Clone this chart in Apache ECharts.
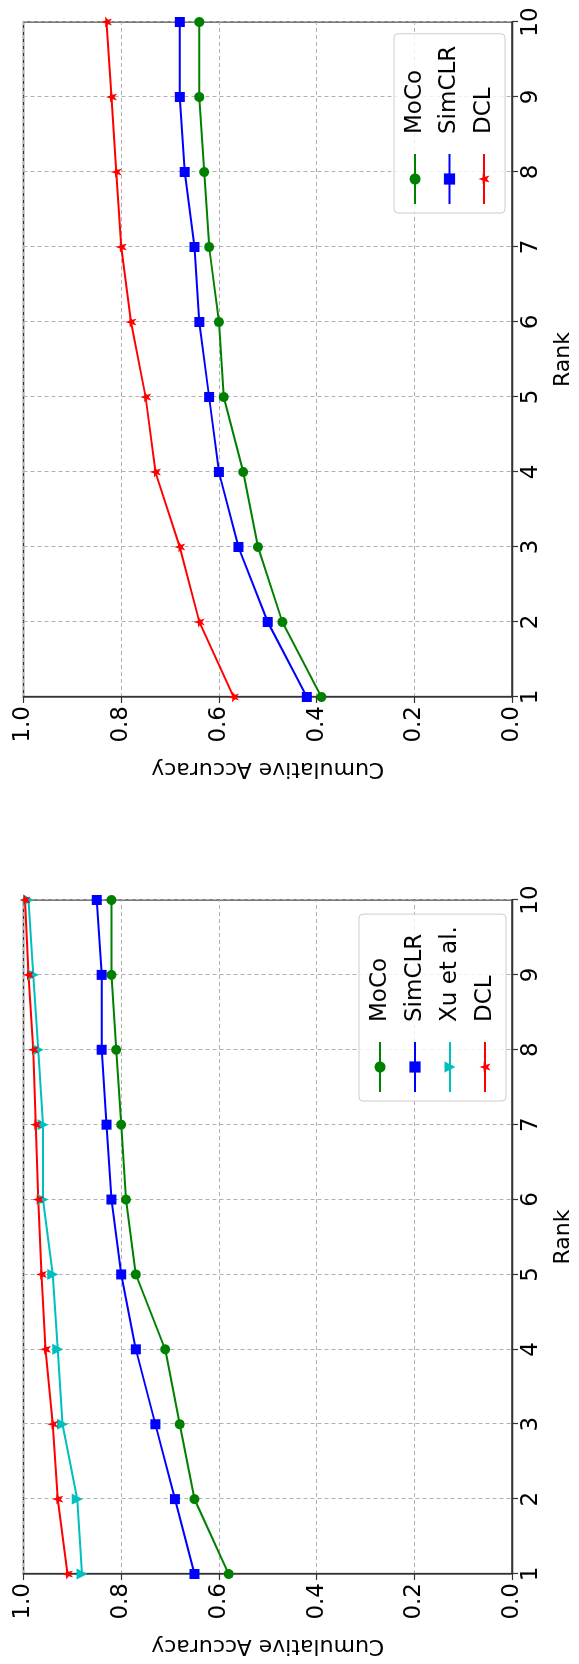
<!DOCTYPE html>
<html>
<head>
<meta charset="utf-8">
<script src="https://cdn.jsdelivr.net/npm/echarts@6/dist/echarts.min.js"></script>
<style>
html, body { margin:0; padding:0; width:579px; height:1664px; overflow:hidden; background:#fff; }
#chart { position:absolute; left:0; top:0; width:1664px; height:579px;
  transform-origin:0 0; transform:translate(0px,1664px) rotate(-90deg); }
</style>
</head>
<body>
<div id="chart"></div>
<script>
// ----- data -----
const ranks = [1, 2, 3, 4, 5, 6, 7, 8, 9, 10];
const accTicks = [0.0, 0.2, 0.4, 0.6, 0.8, 1.0];

// upper panel (three methods)
const topMoCo   = [0.39, 0.47, 0.52, 0.55, 0.59, 0.60, 0.62, 0.63, 0.64, 0.64];
const topSimCLR = [0.42, 0.50, 0.56, 0.60, 0.62, 0.64, 0.65, 0.67, 0.68, 0.68];
const topDCL    = [0.57, 0.64, 0.68, 0.73, 0.75, 0.78, 0.80, 0.81, 0.82, 0.83];

// lower panel (four methods)
const botMoCo   = [0.58, 0.65, 0.68, 0.71, 0.77, 0.79, 0.80, 0.81, 0.82, 0.82];
const botSimCLR = [0.65, 0.69, 0.73, 0.77, 0.80, 0.82, 0.83, 0.84, 0.84, 0.85];
const botXu     = [0.88, 0.89, 0.92, 0.93, 0.94, 0.96, 0.96, 0.97, 0.98, 0.99];
const botDCL    = [0.91, 0.93, 0.94, 0.955, 0.963, 0.97, 0.975, 0.98, 0.99, 0.997];

const FONT = 'DejaVu Sans';
const STAR = 'path://M0,-10L2.35,-3.24L9.51,-3.09L3.8,1.24L5.88,8.09L0,4L-5.88,8.09L-3.8,1.24L-9.51,-3.09L-2.35,-3.24Z';
const styles = {
  'MoCo':      { color: '#008000', symbol: 'circle', size: 10 },
  'SimCLR':    { color: '#0000ff', symbol: 'rect', size: 10 },
  'Xu et al.': { color: '#00bfbf', symbol: 'triangle', size: 11, rotate: 180 },
  'DCL':       { color: '#ff0000', symbol: STAR, size: 11 }
};

function pairs(vals) { return ranks.map((r, i) => [r, vals[i]]); }
function mkSeries(name, vals, gi) {
  const s = styles[name];
  return {
    type: 'line', name: name, xAxisIndex: gi, yAxisIndex: gi,
    data: pairs(vals), symbol: s.symbol, symbolSize: s.size, symbolRotate: s.rotate || 0,
    showAllSymbol: true, clip: false,
    lineStyle: { color: s.color, width: 2 },
    itemStyle: { color: s.color, borderWidth: 0 },
    emphasis: { disabled: true }, animation: false
  };
}

const grids = [
  { left: 90,  width: 674, top: 23.5, height: 494.2, show: true, borderColor: '#333', borderWidth: 1.3 },
  { left: 967, width: 675, top: 23.5, height: 494.2, show: true, borderColor: '#333', borderWidth: 1.3 }
];
const split = { show: true, lineStyle: { color: '#b0b0b0', type: [4, 3], width: 1 } };

function xAx(gi) {
  return {
    type: 'value', gridIndex: gi, min: 1, max: 10, interval: 1,
    name: 'Rank', nameLocation: 'middle', nameGap: 40,
    nameTextStyle: { fontFamily: FONT, fontSize: 22, color: '#000' },
    axisLine: { show: true, lineStyle: { color: '#333', width: 1.3 } },
    axisTick: { show: true, inside: false, length: 6, lineStyle: { color: '#333', width: 1.2 } },
    axisLabel: { fontFamily: FONT, fontSize: 23, color: '#000', margin: 8 },
    splitLine: split
  };
}
function yAx(gi) {
  return {
    type: 'value', gridIndex: gi, min: 0, max: 1, interval: 0.2,
    name: 'Cumulative Accuracy', nameLocation: 'middle', nameGap: 61, nameRotate: 90,
    nameTextStyle: { fontFamily: FONT, fontSize: 22, color: '#000' },
    axisLine: { show: true, lineStyle: { color: '#333', width: 1.3 } },
    axisTick: { show: true, inside: false, length: 6, lineStyle: { color: '#333', width: 1.2 } },
    axisLabel: { fontFamily: FONT, fontSize: 23, color: '#000', margin: 9,
      formatter: v => v.toFixed(1) },
    splitLine: split
  };
}
function legend(names, left, top, gap) {
  return {
    orient: 'vertical', left: left, top: top, data: names,
    itemWidth: 50, itemHeight: 14, itemGap: gap,
    padding: [9, 12, 9, 8],
    borderColor: '#cccccc', borderWidth: 1, borderRadius: 4,
    backgroundColor: 'rgba(255,255,255,0.8)',
    textStyle: { fontFamily: FONT, fontSize: 23, color: '#000', lineHeight: 24, padding: [0, 0, 0, 15] },
    selectedMode: false
  };
}

const chart = echarts.init(document.getElementById('chart'), null, { width: 1664, height: 579, renderer: 'canvas' });
chart.setOption({
  animation: false,
  backgroundColor: '#fff',
  grid: grids,
  xAxis: [xAx(0), xAx(1)],
  yAxis: [yAx(0), yAx(1)],
  legend: [
    legend(['MoCo', 'SimCLR', 'Xu et al.', 'DCL'], 563, 359, 11),
    legend(['MoCo', 'SimCLR', 'DCL'], 1451, 394, 10.5)
  ],
  series: [
    mkSeries('MoCo', botMoCo, 0), mkSeries('SimCLR', botSimCLR, 0),
    mkSeries('Xu et al.', botXu, 0), mkSeries('DCL', botDCL, 0),
    mkSeries('MoCo', topMoCo, 1), mkSeries('SimCLR', topSimCLR, 1),
    mkSeries('DCL', topDCL, 1)
  ]
});
</script>
</body>
</html>
